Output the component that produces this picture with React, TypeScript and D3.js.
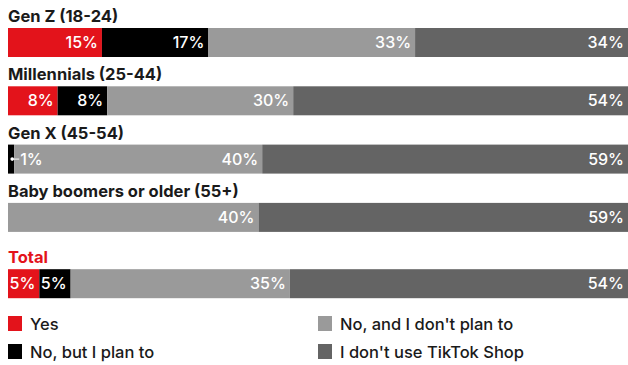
import React from "react";
import * as d3 from "d3";

const categories = ["Gen Z (18-24)", "Millennials (25-44)", "Gen X (45-54)", "Baby boomers or older (55+)", "Total"];
const seriesNames = ["Yes", "No, but I plan to", "No, and I don't plan to", "I don't use TikTok Shop"];
const yes = [15, 8, 0, 0, 5];
const plan = [17, 8, 1, 0, 5];
const noPlan = [33, 30, 40, 40, 35];
const dontUse = [34, 54, 59, 59, 54];

const colors = ["#e3131b", "#000000", "#9a9a9a", "#646464"];
const FONT = "Inter, 'Noto Sans', sans-serif";

export default function App() {
  const W = 628, H = 365;
  const x0 = 8, x1 = 628;
  const barH = 29;
  const series = [yes, plan, noPlan, dontUse];
  const rowTop = (i: number) => 28 + i * 58.3 + (i === 4 ? 8 : 0);

  return (
    <svg width={W} height={H} style={{ position: "absolute", left: 0, top: 0, fontFamily: FONT }}>
      <rect width={W} height={H} fill="#fff" />
      {categories.map((cat, i) => {
        const vals = series.map((s) => s[i]);
        const total = d3.sum(vals);
        const x = d3.scaleLinear().domain([0, total]).range([x0, x1]);
        const top = rowTop(i);
        let acc = 0;
        const segs = vals.map((v, k) => {
          const s = { k, v, a: acc, b: acc + v };
          acc += v;
          return s;
        });
        return (
          <g key={cat}>
            <text x={x0} y={top - 6} fontSize={16.5} fontWeight={700} fill={i === 4 ? "#e3131b" : "#1a1a1a"}>
              {cat}
            </text>
            {segs.filter((s) => s.v > 0).map((s) => (
              <rect key={s.k} x={x(s.a)} y={top} width={x(s.b) - x(s.a)} height={barH} fill={colors[s.k]} />
            ))}
            {segs.filter((s) => s.v > 0).map((s) => {
              const w = x(s.b) - x(s.a);
              if (w < 15) {
                const cx = x(s.b) - 2;
                return (
                  <g key={"l" + s.k}>
                    <circle cx={cx} cy={top + barH / 2} r={1.8} fill="#fff" />
                    <line x1={cx} x2={cx + 7} y1={top + barH / 2} y2={top + barH / 2} stroke="#fff" strokeWidth={1} />
                    <text x={cx + 8} y={top + barH / 2 + 5.5} fontSize={16} fontWeight={500} fill="#fff">
                      {s.v}%
                    </text>
                  </g>
                );
              }
              return (
                <text key={"l" + s.k} x={x(s.b) - 4} y={top + barH / 2 + 5.5} textAnchor="end" fontSize={16} fontWeight={500} fill="#fff">
                  {s.v}%
                </text>
              );
            })}
          </g>
        );
      })}
      {seriesNames.map((name, k) => {
        const col = k === 0 || k === 1 ? 0 : 1;
        const row = k === 0 || k === 2 ? 0 : 1;
        const lx = col === 0 ? 8 : 318;
        const ly = 316 + row * 28;
        return (
          <g key={name}>
            <rect x={lx} y={ly} width={14} height={15} fill={colors[k]} />
            <text x={lx + 22} y={ly + 13.5} fontSize={16.5} fontWeight={500} fill="#1a1a1a">
              {name}
            </text>
          </g>
        );
      })}
    </svg>
  );
}
